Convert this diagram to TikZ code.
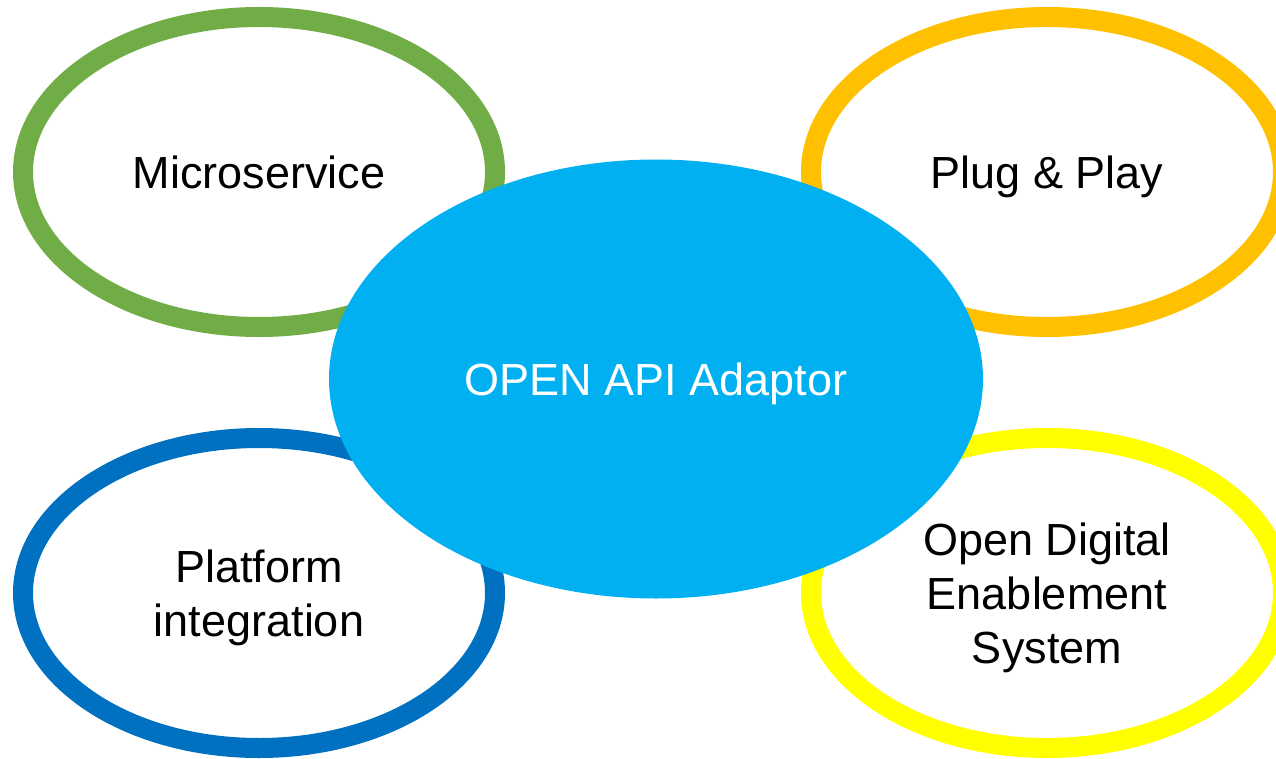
\documentclass[tikz,border=0pt]{standalone}
\usepackage{fontspec}
\setmainfont{Liberation Sans}
\usetikzlibrary{shapes.geometric}
\definecolor{leafgreen}{HTML}{70AD47}
\definecolor{amber}{HTML}{FFC000}
\definecolor{deepblue}{HTML}{0070C0}
\definecolor{lemon}{HTML}{FFFF00}
\definecolor{skyblue}{HTML}{00B0F0}
\tikzset{
  ring/.style={ellipse, draw=#1, line width=20pt, fill=white,
    minimum width=472pt, minimum height=310pt, inner sep=0pt},
  caption/.style={font=\fontsize{45}{54}\selectfont, align=center,
    inner sep=0pt, text depth=0pt}
}
\begin{document}
\begin{tikzpicture}[x=1pt,y=-1pt]
        \useasboundingbox (0,0) rectangle (1276,759);

        \node [ring=leafgreen] (micro) at (259,172) {};
        \node [ring=amber] (plug) at (1047,172) {};
        \node [ring=deepblue] (platform) at (259,593) {};
        \node [ring=lemon] (odes) at (1047,593) {};
        \node [ellipse, fill=skyblue, minimum width=654pt,
          minimum height=439pt, inner sep=0pt] (api) at (656,379) {};

        \node [caption] (microtext) at (micro) {Microservice};
        \node [caption] (plugtext) at (plug) {Plug \& Play};
        \node [caption] (platformtext) at (platform) {Platform\\integration};
        \node [caption] (odestext) at (odes) {Open Digital\\Enablement\\System};
        \node [caption, text=white] (apitext) at (api) {OPEN API Adaptor};
      \end{tikzpicture}
\end{document}
